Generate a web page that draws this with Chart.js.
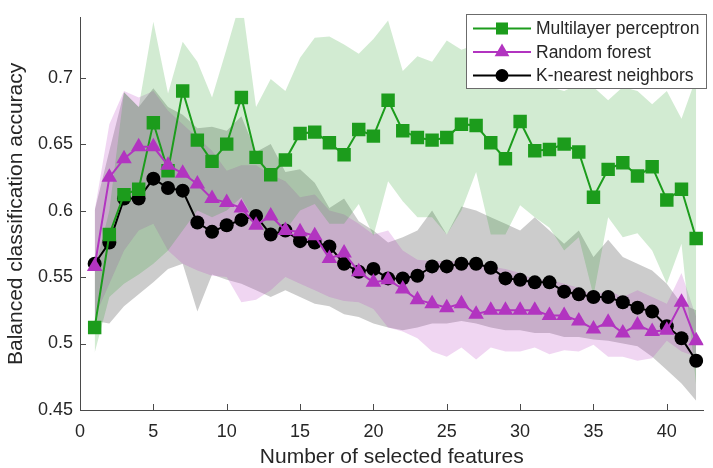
<!DOCTYPE html>
<html>
<head>
<meta charset="utf-8">
<script src="https://cdn.jsdelivr.net/npm/chart.js@4.4.1/dist/chart.umd.min.js"></script>
<style>
  html, body { margin: 0; padding: 0; background: #fff; }
  #wrap { width: 713px; height: 468px; }
</style>
</head>
<body>
<div id="wrap"><canvas id="mainChart" width="713" height="468"></canvas></div>
<script>
// ---- data ----
const features = [1,2,3,4,5,6,7,8,9,10,11,12,13,14,15,16,17,18,19,20,21,22,23,24,25,26,27,28,29,30,31,32,33,34,35,36,37,38,39,40,41,42];

const mlpMean  = [0.512,0.582,0.612,0.616,0.666,0.630,0.690,0.653,0.637,0.650,0.685,0.640,0.627,0.638,0.658,0.659,0.651,0.642,0.661,0.656,0.683,0.660,0.655,0.653,0.655,0.665,0.664,0.651,0.639,0.667,0.645,0.646,0.650,0.644,0.610,0.631,0.636,0.626,0.633,0.608,0.616,0.579];
const mlpUpper = [0.555,0.600,0.689,0.678,0.742,0.688,0.727,0.712,0.685,0.722,0.760,0.678,0.699,0.690,0.715,0.730,0.731,0.725,0.718,0.729,0.743,0.705,0.716,0.712,0.728,0.721,0.725,0.720,0.710,0.715,0.700,0.693,0.690,0.695,0.693,0.683,0.693,0.690,0.680,0.690,0.669,0.700];
const mlpLower = [0.493,0.535,0.545,0.552,0.560,0.570,0.585,0.600,0.595,0.600,0.610,0.590,0.580,0.585,0.600,0.605,0.590,0.590,0.605,0.581,0.622,0.607,0.595,0.595,0.582,0.600,0.629,0.582,0.582,0.604,0.595,0.587,0.570,0.580,0.536,0.595,0.580,0.583,0.570,0.545,0.575,0.468];

const rfMean  = [0.558,0.625,0.639,0.648,0.648,0.634,0.628,0.620,0.609,0.606,0.602,0.589,0.596,0.585,0.584,0.581,0.564,0.568,0.554,0.546,0.548,0.541,0.533,0.530,0.527,0.530,0.522,0.525,0.525,0.525,0.525,0.521,0.521,0.517,0.511,0.516,0.508,0.514,0.509,0.510,0.531,0.502];
const rfUpper = [0.600,0.665,0.690,0.685,0.690,0.675,0.665,0.655,0.645,0.630,0.634,0.634,0.627,0.622,0.610,0.612,0.600,0.597,0.590,0.582,0.585,0.570,0.563,0.562,0.562,0.562,0.561,0.558,0.556,0.553,0.548,0.548,0.545,0.542,0.536,0.540,0.535,0.540,0.535,0.530,0.553,0.520];
const rfLower = [0.520,0.545,0.570,0.585,0.590,0.570,0.560,0.555,0.551,0.550,0.531,0.533,0.540,0.550,0.545,0.540,0.535,0.532,0.531,0.526,0.512,0.509,0.504,0.494,0.490,0.497,0.488,0.497,0.494,0.494,0.497,0.492,0.495,0.494,0.499,0.490,0.490,0.487,0.489,0.502,0.494,0.490];

const knnMean  = [0.560,0.576,0.609,0.609,0.624,0.617,0.615,0.591,0.584,0.589,0.593,0.596,0.582,0.585,0.577,0.576,0.573,0.560,0.554,0.556,0.549,0.549,0.551,0.558,0.558,0.560,0.560,0.557,0.549,0.548,0.546,0.546,0.539,0.537,0.535,0.535,0.531,0.527,0.524,0.513,0.504,0.487];
const knnUpper = [0.600,0.645,0.689,0.678,0.692,0.678,0.672,0.662,0.663,0.660,0.671,0.644,0.650,0.629,0.631,0.621,0.602,0.609,0.592,0.585,0.576,0.580,0.585,0.600,0.582,0.603,0.600,0.595,0.590,0.585,0.595,0.585,0.575,0.585,0.565,0.578,0.565,0.560,0.555,0.545,0.530,0.525];
const knnLower = [0.517,0.515,0.528,0.537,0.546,0.556,0.560,0.524,0.552,0.548,0.545,0.540,0.535,0.540,0.535,0.530,0.528,0.522,0.520,0.515,0.512,0.510,0.512,0.515,0.515,0.517,0.515,0.512,0.510,0.510,0.508,0.508,0.505,0.505,0.503,0.502,0.500,0.498,0.490,0.480,0.470,0.457];

const xTicks = [0,5,10,15,20,25,30,35,40];
const yTicks = [0.45,0.5,0.55,0.6,0.65,0.7];
const seriesNames = ['Multilayer perceptron', 'Random forest', 'K-nearest neighbors'];

const GREEN = 'rgb(28,156,28)';
const MAGENTA = 'rgb(178,52,192)';
const BLACK = 'rgb(0,0,0)';
const FONT = "'Liberation Sans', Arial, Helvetica, sans-serif";
const TEXT = '#262626';
const AXIS = '#4a4a4a';

function pts(arr) {
    return arr.map((v, i) => ({ x: features[i], y: v }));
}

function band(upper, lower, fillColor) {
    return [
        { data: pts(upper), borderWidth: 0, pointRadius: 0, backgroundColor: fillColor,
          fill: '+1', order: 10, tension: 0 },
        { data: pts(lower), borderWidth: 0, pointRadius: 0, backgroundColor: fillColor,
          fill: false, order: 10, tension: 0 }
    ];
}

function meanLine(label, arr, color, style, radius, order) {
    return {
        label: label, data: pts(arr), borderColor: color, borderWidth: 2,
        pointStyle: style, pointRadius: radius, pointHoverRadius: radius,
        pointBackgroundColor: color, pointBorderColor: color, pointBorderWidth: 0,
        fill: false, tension: 0, order: order
    };
}

const datasets = [
    ...band(mlpUpper, mlpLower, 'rgba(28,156,28,0.2)'),
    ...band(rfUpper, rfLower, 'rgba(178,52,192,0.2)'),
    ...band(knnUpper, knnLower, 'rgba(0,0,0,0.2)'),
    meanLine(seriesNames[0], mlpMean, GREEN, 'rect', 9.5, 2),
    meanLine(seriesNames[1], rfMean, MAGENTA, 'triangle', 9, 1),
    meanLine(seriesNames[2], knnMean, BLACK, 'circle', 7, 3)
];

// inward tick marks, MATLAB style
const innerTicks = {
    id: 'innerTicks',
    afterDraw(chart) {
        const c = chart.ctx, a = chart.chartArea;
        const xs = chart.scales.x, ys = chart.scales.y;
        c.save();
        c.strokeStyle = AXIS;
        c.lineWidth = 1;
        c.beginPath();
        xTicks.forEach(t => {
            const px = Math.round(xs.getPixelForValue(t)) + 0.5;
            c.moveTo(px, a.bottom); c.lineTo(px, a.bottom - 6);
        });
        yTicks.forEach(t => {
            const py = Math.round(ys.getPixelForValue(t)) + 0.5;
            c.moveTo(a.left, py); c.lineTo(a.left + 6, py);
        });
        c.stroke();
        c.restore();
    }
};

// legend box with line + marker samples
const lineLegend = {
    id: 'lineLegend',
    afterDraw(chart) {
        const c = chart.ctx;
        const box = { x: 466.5, y: 14.5, w: 240, h: 74 };
        c.save();
        c.fillStyle = '#fff';
        c.fillRect(box.x, box.y, box.w, box.h);
        c.strokeStyle = '#6b6b6b';
        c.lineWidth = 1;
        c.strokeRect(box.x, box.y, box.w, box.h);
        const styles = [
            { color: GREEN, style: 'rect', r: 8.5 },
            { color: MAGENTA, style: 'triangle', r: 8.5 },
            { color: BLACK, style: 'circle', r: 6.5 }
        ];
        const rows = [28.5, 52, 75.5];
        c.font = '17.5px ' + FONT;
        c.textBaseline = 'middle';
        styles.forEach((s, i) => {
            const y = rows[i];
            c.strokeStyle = s.color;
            c.lineWidth = 2;
            c.beginPath();
            c.moveTo(473, y); c.lineTo(531, y);
            c.stroke();
            c.fillStyle = s.color;
            c.strokeStyle = s.color;
            Chart.helpers.drawPoint(c, { pointStyle: s.style, radius: s.r, rotation: 0, borderWidth: 0 }, 502, y);
            c.fillStyle = TEXT;
            c.fillText(seriesNames[i], 536, y + 1);
        });
        c.restore();
    }
};

new Chart(document.getElementById('mainChart'), {
    type: 'line',
    data: { datasets: datasets },
    options: {
        responsive: false,
        animation: false,
        events: [],
        layout: { padding: { top: 8, right: 2, left: 0, bottom: 0 } },
        plugins: {
            legend: { display: false },
            tooltip: { enabled: false },
            filler: { drawTime: 'beforeDatasetsDraw' }
        },
        scales: {
            x: {
                type: 'linear', min: 0, max: 42.5,
                afterBuildTicks: s => { s.ticks = xTicks.map(v => ({ value: v })); },
                afterFit: s => { s.height = 58; },
                grid: { display: false, drawTicks: false },
                border: { display: true, color: AXIS, width: 1 },
                ticks: { color: TEXT, font: { family: FONT, size: 18 }, padding: 11, maxRotation: 0 },
                title: { display: true, text: 'Number of selected features', color: TEXT,
                         font: { family: FONT, size: 21 }, padding: { top: 0, bottom: -2 } }
            },
            y: {
                type: 'linear', min: 0.45, max: 0.745,
                afterBuildTicks: s => { s.ticks = yTicks.map(v => ({ value: v })); },
                afterFit: s => { s.width = 80; },
                grid: { display: false, drawTicks: false },
                border: { display: true, color: AXIS, width: 1 },
                ticks: { color: TEXT, font: { family: FONT, size: 18 }, padding: 7,
                         callback: v => String(Number(v.toFixed(2))) },
                title: { display: true, text: 'Balanced classification accuracy', color: TEXT,
                         font: { family: FONT, size: 21 }, padding: { top: 4, bottom: 0 } }
            }
        }
    },
    plugins: [innerTicks, lineLegend]
});
</script>
</body>
</html>
